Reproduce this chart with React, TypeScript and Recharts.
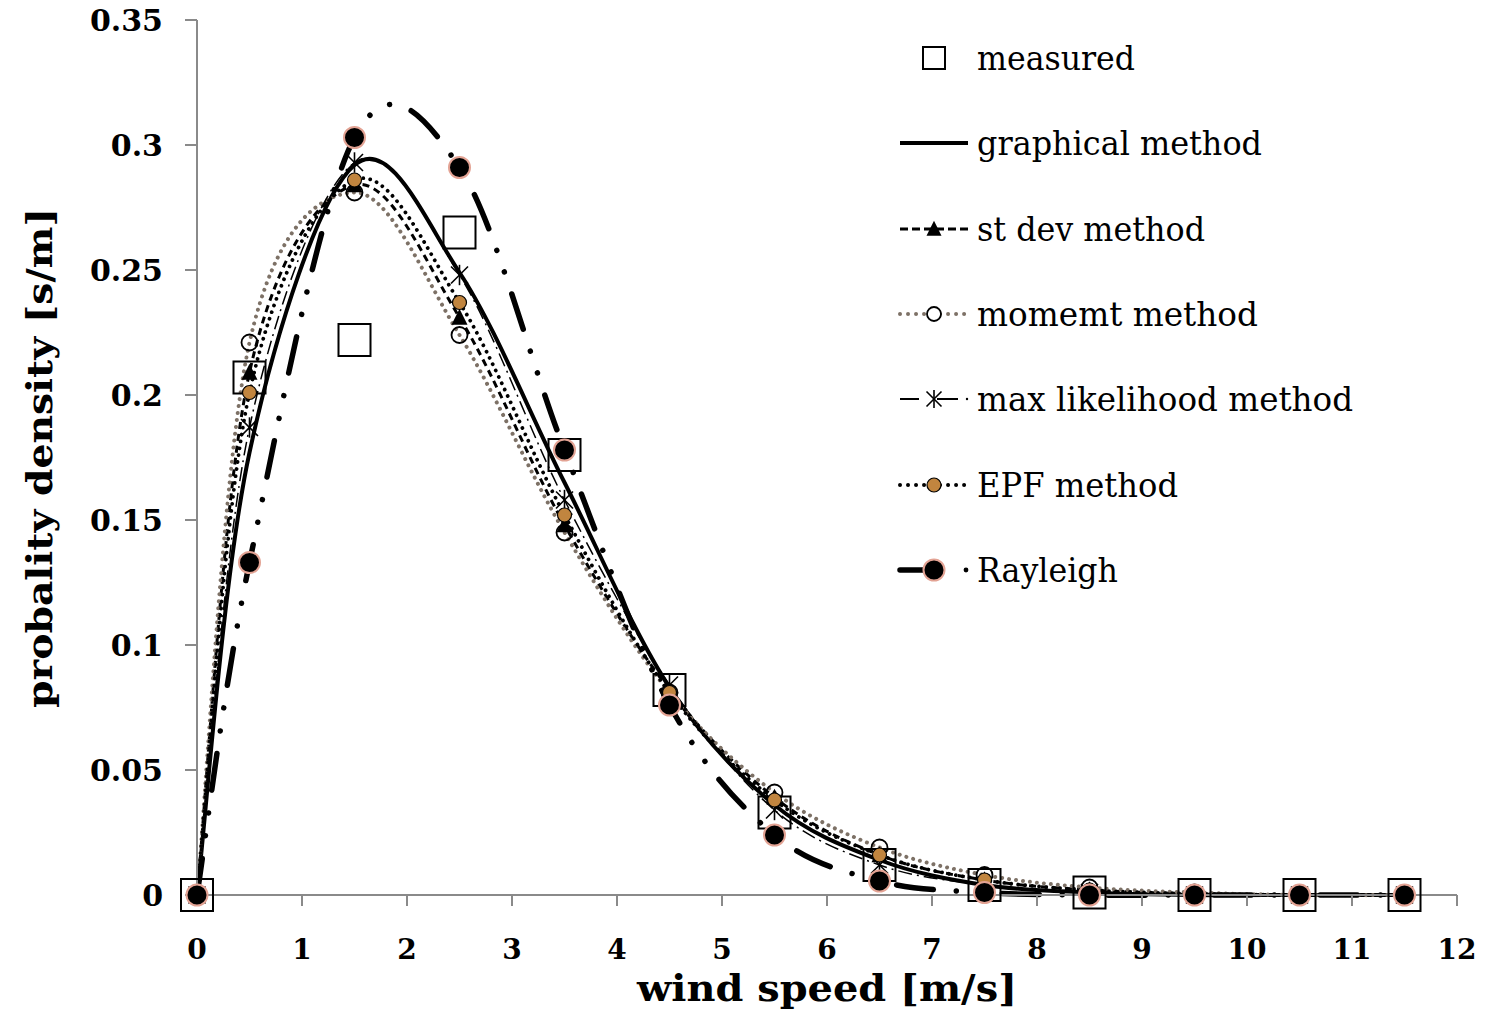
import React from 'react';
import { LineChart, Line, XAxis, YAxis, Legend, Label } from 'recharts';

// ---- data ----
const windSpeed = [0, 0.5, 1.5, 2.5, 3.5, 4.5, 5.5, 6.5, 7.5, 8.5, 9.5, 10.5, 11.5];
const measured = [0, 0.207, 0.222, 0.265, 0.176, 0.082, 0.033, 0.012, 0.004, 0.001, 0, 0, 0];
const graphical = [0, 0.177, 0.292, 0.249, 0.165, 0.083, 0.036, 0.014, 0.004, 0.001, 0, 0, 0];
const stDev = [0, 0.209, 0.284, 0.231, 0.148, 0.082, 0.039, 0.016, 0.006, 0.002, 0.0005, 0, 0];
const moment = [0, 0.221, 0.281, 0.224, 0.145, 0.081, 0.041, 0.019, 0.008, 0.003, 0.001, 0, 0];
const maxLikelihood = [0, 0.187, 0.293, 0.248, 0.158, 0.084, 0.034, 0.012, 0.004, 0.001, 0, 0, 0];
const epf = [0, 0.201, 0.286, 0.237, 0.152, 0.081, 0.038, 0.016, 0.006, 0.002, 0.0005, 0, 0];
const rayleigh = [0, 0.133, 0.303, 0.291, 0.178, 0.076, 0.024, 0.0056, 0.001, 0, 0, 0, 0];

const xTicks = [0, 1, 2, 3, 4, 5, 6, 7, 8, 9, 10, 11, 12];
const yTicks = [0, 0.05, 0.1, 0.15, 0.2, 0.25, 0.3, 0.35];
const yTickLabels = ['0', '0.05', '0.1', '0.15', '0.2', '0.25', '0.3', '0.35'];
const seriesNames = [
  'measured',
  'graphical method',
  'st dev method',
  'momemt method',
  'max likelihood method',
  'EPF method',
  'Rayleigh',
];

const data = windSpeed.map((x, i) => ({
  x,
  measured: measured[i],
  graphical: graphical[i],
  stDev: stDev[i],
  moment: moment[i],
  maxLikelihood: maxLikelihood[i],
  epf: epf[i],
  rayleigh: rayleigh[i],
}));

// Excel-like smoothed line (Catmull-Rom through every point)
const excelSmooth: any = (context: any) => {
  let pts: number[][] = [];
  return {
    areaStart() {},
    areaEnd() {},
    lineStart() {
      pts = [];
    },
    point(x: number, y: number) {
      pts.push([+x, +y]);
    },
    lineEnd() {
      const n = pts.length;
      if (!n) return;
      context.moveTo(pts[0][0], pts[0][1]);
      for (let i = 0; i < n - 1; i++) {
        const p0 = pts[Math.max(i - 1, 0)];
        const p1 = pts[i];
        const p2 = pts[i + 1];
        const p3 = pts[Math.min(i + 2, n - 1)];
        context.bezierCurveTo(
          p1[0] + (p2[0] - p0[0]) / 6,
          p1[1] + (p2[1] - p0[1]) / 6,
          p2[0] - (p3[0] - p1[0]) / 6,
          p2[1] - (p3[1] - p1[1]) / 6,
          p2[0],
          p2[1]
        );
      }
    },
  };
};

const SERIF = '"DejaVu Serif", "Liberation Serif", serif';
const AXIS_GRAY = '#8a8a8a';
const MOMENT_GRAY = '#7d7166';
const EPF_FILL = '#c1853f';
const RAY_STROKE = '#e3a394';

// ---- marker shapes ----
const Square = ({ cx, cy, s }: any) => (
  <rect x={cx - s / 2} y={cy - s / 2} width={s} height={s} fill="none" stroke="#000" strokeWidth={2} />
);
const Triangle = ({ cx, cy, s }: any) => (
  <path d={`M${cx},${cy - s * 0.55} L${cx + s / 2},${cy + s * 0.45} L${cx - s / 2},${cy + s * 0.45} Z`} fill="#000" />
);
const Ring = ({ cx, cy, r }: any) => <circle cx={cx} cy={cy} r={r} fill="none" stroke="#000" strokeWidth={1.8} />;
const Star = ({ cx, cy, s }: any) => (
  <g stroke="#000" strokeWidth={1.6}>
    <line x1={cx - s / 2} y1={cy - s / 2} x2={cx + s / 2} y2={cy + s / 2} />
    <line x1={cx - s / 2} y1={cy + s / 2} x2={cx + s / 2} y2={cy - s / 2} />
    <line x1={cx} y1={cy - s * 0.6} x2={cx} y2={cy + s * 0.6} />
  </g>
);
const EpfDot = ({ cx, cy, r }: any) => <circle cx={cx} cy={cy} r={r} fill={EPF_FILL} stroke="#000" strokeWidth={1.2} />;
const RayDot = ({ cx, cy, r }: any) => <circle cx={cx} cy={cy} r={r} fill="#000" stroke={RAY_STROKE} strokeWidth={2} />;

const dotOf = (kind: string) => (props: any) => {
  const { cx, cy, index } = props;
  const key = `${kind}-${index}`;
  if (cx == null || cy == null) return <g key={key} />;
  switch (kind) {
    case 'sq':
      return <Square key={key} cx={cx} cy={cy} s={32} />;
    case 'tri':
      return <Triangle key={key} cx={cx} cy={cy} s={16} />;
    case 'ring':
      return <Ring key={key} cx={cx} cy={cy} r={8} />;
    case 'star':
      return <Star key={key} cx={cx} cy={cy} s={17} />;
    case 'epf':
      return <EpfDot key={key} cx={cx} cy={cy} r={7} />;
    case 'ray':
      return <RayDot key={key} cx={cx} cy={cy} r={10.5} />;
    default:
      return <g key={key} />;
  }
};

// ---- ticks ----
const YTick = (props: any) => {
  const { x, y, payload } = props;
  const idx = yTicks.indexOf(payload.value);
  return (
    <text x={x} y={y + 11} textAnchor="end" fontFamily={SERIF} fontWeight="bold" fontSize={30} fill="#000">
      {idx >= 0 ? yTickLabels[idx] : String(payload.value)}
    </text>
  );
};
const XTick = (props: any) => {
  const { x, y, payload } = props;
  return (
    <text x={x} y={y + 53} textAnchor="middle" fontFamily={SERIF} fontWeight="bold" fontSize={28} fill="#000">
      {String(payload.value)}
    </text>
  );
};

// ---- legend ----
const LX0 = 900;
const LX1 = 968;
const LMID = 934;
const LTX = 977;
const rowY = [58, 143, 229, 314, 399, 485, 570];
const textLens = [158, 285, 228, 281, 376, 201, 141];

const LegendBox = () => {
  const ox = 880;
  const oy = 20;
  return (
    <svg width={600} height={620} style={{ overflow: 'visible', display: 'block' }}>
      <g transform={`translate(${-ox},${-oy})`}>
        {/* measured */}
        <Square cx={LMID} cy={rowY[0]} s={22} />
        {/* graphical */}
        <line x1={LX0} y1={rowY[1]} x2={LX1} y2={rowY[1]} stroke="#000" strokeWidth={4} />
        {/* st dev */}
        <line x1={LX0} y1={rowY[2]} x2={LX1} y2={rowY[2]} stroke="#000" strokeWidth={2.8} strokeDasharray="8 4" />
        <Triangle cx={LMID} cy={rowY[2]} s={15} />
        {/* moment */}
        <line x1={LX0} y1={rowY[3]} x2={LX1} y2={rowY[3]} stroke={MOMENT_GRAY} strokeWidth={4} strokeDasharray="0.01 8" strokeLinecap="round" />
        <circle cx={LMID} cy={rowY[3]} r={7} fill="#fff" stroke="#000" strokeWidth={1.8} />
        {/* max likelihood */}
        <line x1={LX0} y1={rowY[4]} x2={LX0 + 19} y2={rowY[4]} stroke="#000" strokeWidth={2} />
        <line x1={LMID + 3} y1={rowY[4]} x2={958} y2={rowY[4]} stroke="#000" strokeWidth={2} />
        <circle cx={967} cy={rowY[4]} r={1.2} fill="#000" />
        <Star cx={LMID} cy={rowY[4]} s={15} />
        {/* EPF */}
        <line x1={LX0} y1={rowY[5]} x2={LX1} y2={rowY[5]} stroke="#000" strokeWidth={4} strokeDasharray="0.01 8" strokeLinecap="round" />
        <EpfDot cx={LMID} cy={rowY[5]} r={7} />
        {/* Rayleigh */}
        <line x1={LX0} y1={rowY[6]} x2={925} y2={rowY[6]} stroke="#000" strokeWidth={5.5} strokeLinecap="round" />
        <circle cx={966} cy={rowY[6]} r={2.4} fill="#000" />
        <RayDot cx={LMID} cy={rowY[6]} r={10.5} />
        {seriesNames.map((name, i) => (
          <text
            key={name}
            x={LTX}
            y={rowY[i] + 12}
            fontFamily={SERIF}
            fontSize={33}
            fill="#000"
            textLength={textLens[i]}
            lengthAdjust="spacingAndGlyphs"
          >
            {name}
          </text>
        ))}
      </g>
    </svg>
  );
};

export default function App() {
  return (
    <div style={{ position: 'absolute', left: 0, top: 0, width: 1494, height: 1012, background: '#fff' }}>
      <LineChart width={1494} height={1012} data={data} margin={{ top: 20, right: 37, bottom: 0, left: 0 }}>
        <XAxis
          type="number"
          dataKey="x"
          domain={[0, 12]}
          ticks={xTicks}
          interval={0}
          height={117}
          axisLine={{ stroke: AXIS_GRAY, strokeWidth: 2 }}
          tickLine={{ stroke: AXIS_GRAY, strokeWidth: 2 }}
          tickSize={11}
          tickMargin={0}
          tick={<XTick />}
        >
          <Label
            content={() => (
              <text
                x={827}
                y={1001}
                textAnchor="middle"
                fontFamily={SERIF}
                fontWeight="bold"
                fontSize={37}
                fill="#000"
                textLength={380}
                lengthAdjust="spacingAndGlyphs"
              >
                wind speed [m/s]
              </text>
            )}
          />
        </XAxis>
        <YAxis
          type="number"
          domain={[0, 0.35]}
          ticks={yTicks}
          interval={0}
          width={197}
          axisLine={{ stroke: AXIS_GRAY, strokeWidth: 2 }}
          tickLine={{ stroke: AXIS_GRAY, strokeWidth: 2 }}
          tickSize={12}
          tickMargin={22}
          tick={<YTick />}
        >
          <Label
            content={() => (
              <text
                x={0}
                y={0}
                transform="translate(52,458) rotate(-90)"
                textAnchor="middle"
                fontFamily={SERIF}
                fontWeight="bold"
                fontSize={36}
                fill="#000"
                textLength={500}
                lengthAdjust="spacingAndGlyphs"
              >
                probality density [s/m]
              </text>
            )}
          />
        </YAxis>
        <Legend
          layout="horizontal"
          verticalAlign="middle"
          align="center"
          wrapperStyle={{ position: 'absolute', left: 880, top: 20, width: 600, height: 620 }}
          content={() => <LegendBox />}
        />
        <Line dataKey="measured" name={seriesNames[0]} stroke="none" dot={dotOf('sq')} activeDot={false} isAnimationActive={false} type={excelSmooth} />
        <Line dataKey="graphical" name={seriesNames[1]} stroke="#000" strokeWidth={4} dot={false} activeDot={false} isAnimationActive={false} type={excelSmooth} />
        <Line dataKey="stDev" name={seriesNames[2]} stroke="#000" strokeWidth={3} strokeDasharray="7 5" dot={dotOf('tri')} activeDot={false} isAnimationActive={false} type={excelSmooth} />
        <Line dataKey="moment" name={seriesNames[3]} stroke={MOMENT_GRAY} strokeWidth={4} strokeDasharray="0.01 7" strokeLinecap="round" dot={dotOf('ring')} activeDot={false} isAnimationActive={false} type={excelSmooth} />
        <Line dataKey="maxLikelihood" name={seriesNames[4]} stroke="#000" strokeWidth={1.5} strokeDasharray="14 5 2 5" dot={dotOf('star')} activeDot={false} isAnimationActive={false} type={excelSmooth} />
        <Line dataKey="epf" name={seriesNames[5]} stroke="#000" strokeWidth={3.8} strokeDasharray="0.01 7" strokeLinecap="round" dot={dotOf('epf')} activeDot={false} isAnimationActive={false} type={excelSmooth} />
        <Line dataKey="rayleigh" name={seriesNames[6]} stroke="#000" strokeWidth={5.5} strokeDasharray="37 23 0.01 23 0.01 23" strokeLinecap="round" dot={dotOf('ray')} activeDot={false} isAnimationActive={false} type={excelSmooth} />
      </LineChart>
    </div>
  );
}
